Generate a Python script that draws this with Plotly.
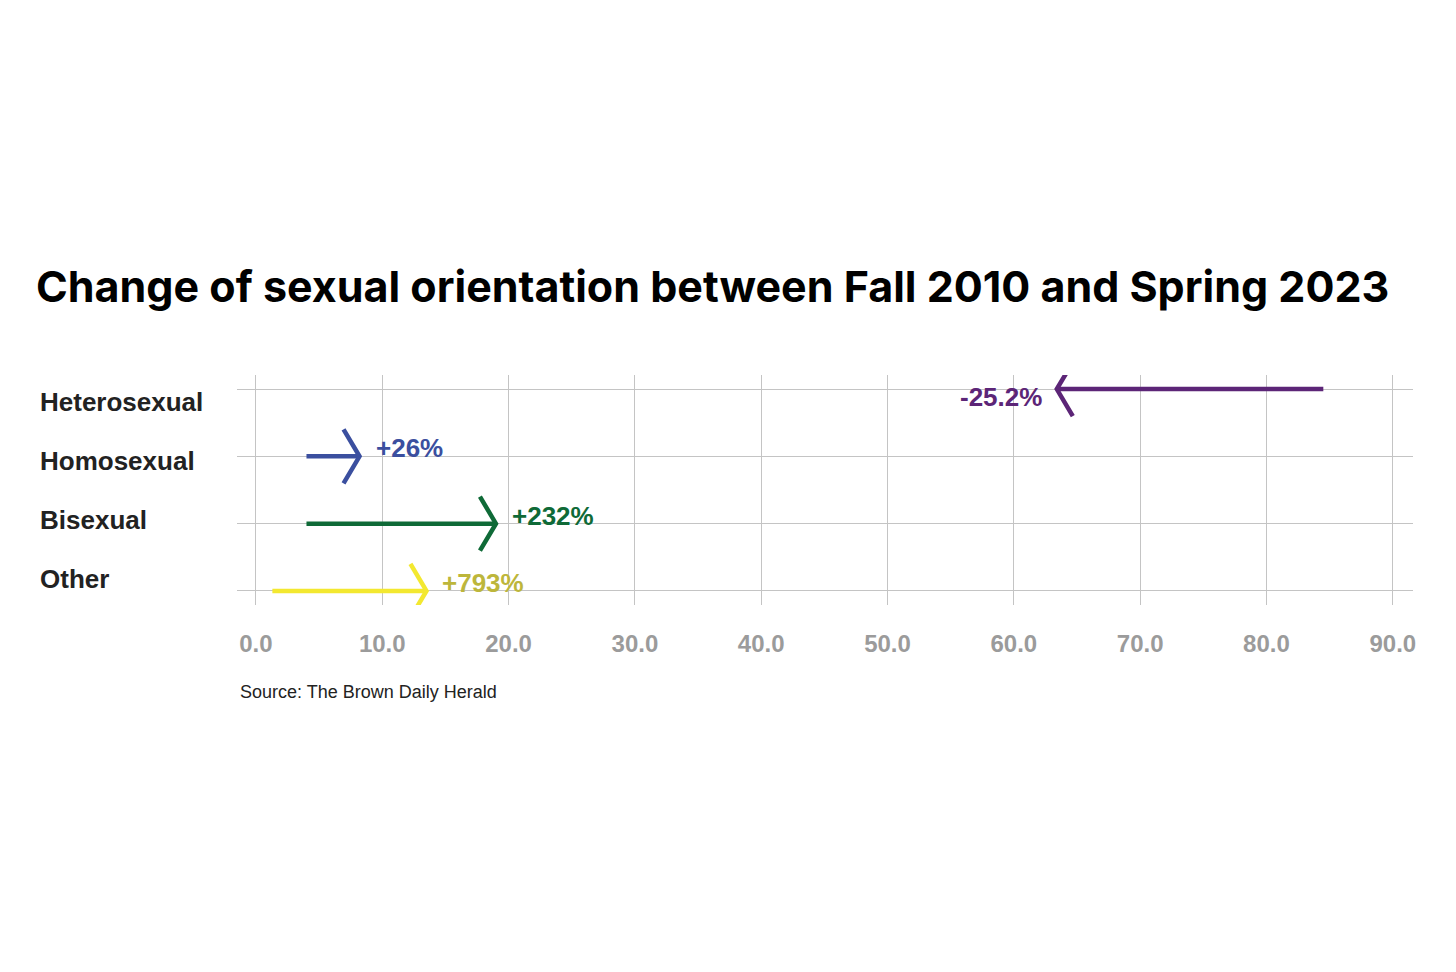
import plotly.graph_objects as go

# ---- data ----
categories = ["Heterosexual", "Homosexual", "Bisexual", "Other"]
start_2010 = [84.5, 4.0, 4.0, 1.3]
end_2023 = [63.4, 8.2, 19.0, 13.5]
change_labels = ["-25.2%", "+26%", "+232%", "+793%"]
line_colors = ["#5C2577", "#3B4F9F", "#0F6A37", "#F3E830"]
label_colors = ["#5C2577", "#3B4F9F", "#0F6A37", "#BDB63B"]
x_ticks = [0, 10, 20, 30, 40, 50, 60, 70, 80, 90]

title_text = "Change of sexual orientation between Fall 2010 and Spring 2023"
source_text = "Source: The Brown Daily Herald"

# ---- geometry (page pixels; page body has an 8px margin) ----
W, H = 1456, 972
OFF = 8
plot_l, plot_r, plot_t, plot_b = 237 - OFF, 1413 - OFF, 375 - OFF, 605 - OFF
x_range = [-1.5, 91.6]
y_range = [3.21, -0.21]  # top to bottom

px_per_x = (plot_r - plot_l) / (x_range[1] - x_range[0])
px_per_y = (plot_b - plot_t) / abs(y_range[0] - y_range[1])
head_len = 16 / px_per_x
head_half = 27 / px_per_y

fig = go.Figure()

for i, cat in enumerate(categories):
    s, e = start_2010[i], end_2023[i]
    d = 1 if e > s else -1
    xs = [s, e, None, e - d * head_len, e, e - d * head_len]
    ys = [i, i, None, i - head_half, i, i + head_half]
    fig.add_trace(go.Scatter(
        x=xs, y=ys, mode="lines",
        line=dict(color=line_colors[i], width=4.5),
        hoverinfo="skip", showlegend=False,
    ))
    fig.add_annotation(
        x=e, y=i, xref="x", yref="y",
        text=f"<b>{change_labels[i]}</b>", showarrow=False,
        xanchor="left" if d > 0 else "right",
        yanchor="middle",
        xshift=14 if d > 0 else -13,
        yshift=8 if d > 0 else -8,
        font=dict(family="Liberation Sans, Arial, sans-serif", size=26,
                  color=label_colors[i]),
    )


def to_plot_paper(px, py):
    return ((px - OFF - plot_l) / (plot_r - plot_l),
            (plot_b - (py - OFF)) / (plot_b - plot_t))


# category labels (left column)
n = len(categories)
top_c, bot_c = 402, 579
for i, cat in enumerate(categories):
    py = top_c + (bot_c - top_c) * i / (n - 1)
    ax, ay = to_plot_paper(38, py)
    fig.add_annotation(
        x=ax, y=ay, xref="paper", yref="paper",
        text=f"<b>{cat}</b>", showarrow=False,
        xanchor="left", yanchor="middle",
        font=dict(family="Liberation Sans, Arial, sans-serif", size=26,
                  color="#222222"),
    )

sx, sy = to_plot_paper(238, 692)
fig.add_annotation(
    x=sx, y=sy, xref="paper", yref="paper",
    text=source_text, showarrow=False, xanchor="left", yanchor="middle",
    font=dict(family="Liberation Sans, Arial, sans-serif", size=18,
              color="#222222"),
)

fig.update_layout(
    width=W, height=H,
    margin=dict(l=plot_l, r=W - plot_r, t=plot_t, b=H - plot_b, pad=0),
    paper_bgcolor="white", plot_bgcolor="white",
    title=dict(
        text=f"<b>{title_text}</b>",
        x=(36 - OFF) / W, xanchor="left", xref="container",
        y=1 - (287 - OFF) / H, yanchor="middle", yref="container",
        font=dict(family="Inter, Liberation Sans, sans-serif", size=43,
                  color="#000000", weight=900),
    ),
    xaxis=dict(
        range=x_range, tickvals=x_ticks, tickformat=".1f",
        showgrid=True, gridcolor="#c4c4c4", gridwidth=1,
        zeroline=False, showline=False, ticks="",
        ticklabelstandoff=22,
        tickfont=dict(family="Liberation Sans, Arial, sans-serif", size=24,
                      color="#9b9b9b", weight="bold"),
        fixedrange=True,
    ),
    yaxis=dict(
        range=y_range, tickvals=list(range(len(categories))),
        showticklabels=False, showgrid=True, gridcolor="#c4c4c4",
        gridwidth=1, zeroline=False, showline=False, ticks="",
        fixedrange=True,
    ),
)

fig.write_html("out.html")
